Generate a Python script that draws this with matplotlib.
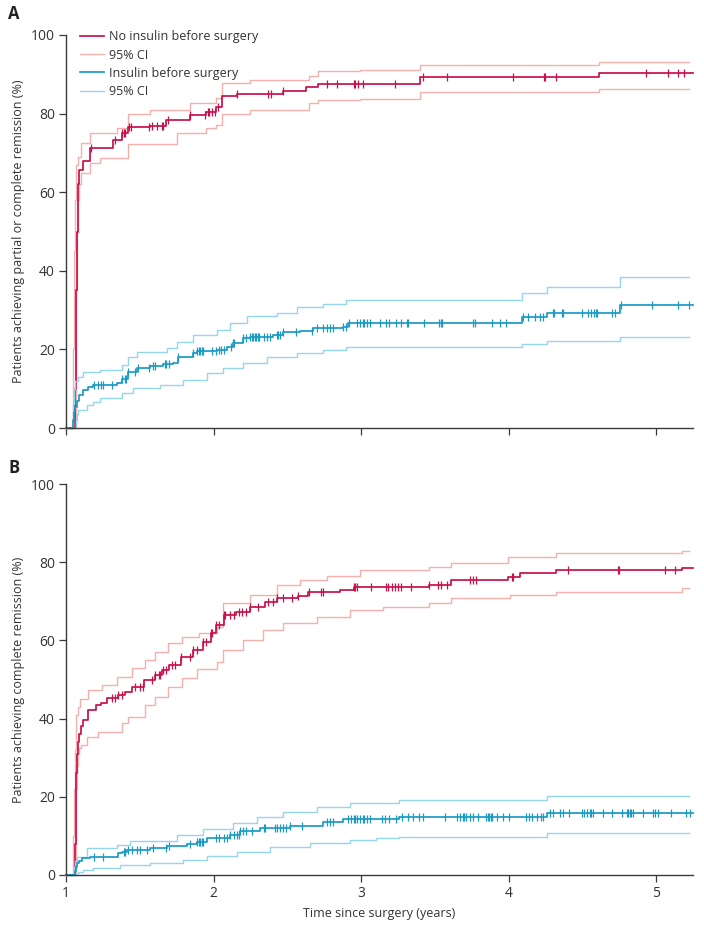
import numpy as np
import matplotlib.pyplot as plt

plt.rcParams['font.family'] = ['Open Sans', 'DejaVu Sans']

# ---- Panel A: partial or complete remission ----
a_no_t = [1.0, 1.06, 1.065, 1.07, 1.075, 1.08, 1.09, 1.115, 1.16, 1.32, 1.38, 1.42, 1.57, 1.68,
          1.84, 1.95, 2.02, 2.056, 2.16, 2.47, 2.63, 2.71, 3.40, 4.615]
a_no_v = [0, 10, 20, 35, 50, 62, 65.6, 68, 71.2, 73.3, 75, 76.6, 76.8, 78.4,
          79.6, 80.4, 81.7, 84.5, 85, 85.8, 86.8, 87.5, 89.3, 90.3]
a_no_hi_t = [1.0, 1.05, 1.055, 1.06, 1.065, 1.07, 1.08, 1.10, 1.16, 1.345, 1.42, 1.57, 1.84, 2.02,
             2.056, 2.25, 2.65, 2.71, 2.99, 3.40, 4.615]
a_no_hi_v = [0, 20, 45, 58, 64, 67, 69, 72.5, 75, 76.3, 80, 81, 82.7, 84,
             87.8, 88.5, 89.6, 90.8, 91.1, 92.4, 93.1]
a_no_lo_t = [1.0, 1.065, 1.07, 1.075, 1.08, 1.09, 1.10, 1.16, 1.23, 1.42, 1.75, 1.95, 2.02,
             2.056, 2.25, 2.65, 2.71, 2.99, 3.40, 4.615]
a_no_lo_v = [0, 15, 35, 50, 58, 62, 65, 67.4, 68.7, 72.3, 75, 76.3, 77.1,
             80, 81, 82.7, 83.5, 83.7, 85.5, 86.3]
a_no_cens = [1.17, 1.33, 1.38, 1.39, 1.40, 1.43, 1.44, 1.56, 1.58, 1.62, 1.65, 1.66, 1.69, 1.84,
             1.94, 1.96, 1.97, 1.99, 2.01, 2.03, 2.16, 2.37, 2.39, 2.47, 2.77, 2.84, 2.95, 2.96,
             2.98, 3.01, 3.23, 3.42, 3.58, 4.03, 4.24, 4.25, 4.32, 4.93, 5.08, 5.15, 5.19]

a_ins_t = [1.0, 1.05, 1.055, 1.06, 1.074, 1.09, 1.115, 1.15, 1.18, 1.345, 1.379, 1.42, 1.48, 1.569,
           1.657, 1.724, 1.758, 1.86, 1.887, 2.022, 2.09, 2.13, 2.198, 2.246, 2.40, 2.47, 2.584,
           2.672, 2.875, 2.909, 4.094, 4.263, 4.758]
a_ins_v = [0, 2, 4, 5.3, 6.8, 8.5, 9.7, 10.4, 10.9, 11.5, 12.5, 14.2, 15.3, 15.8,
           16.3, 16.5, 18, 19, 19.6, 19.8, 20.6, 21.6, 22.9, 23.2, 23.7, 24.4, 24.7,
           25.4, 25.7, 26.7, 28.2, 29.3, 31.3]
a_ins_hi_t = [1.0, 1.05, 1.055, 1.061, 1.081, 1.115, 1.23, 1.379, 1.42, 1.48, 1.684, 1.752, 1.86,
              2.022, 2.11, 2.225, 2.43, 2.564, 2.74, 2.90, 4.094, 4.263, 4.758]
a_ins_hi_v = [0, 6, 10, 12, 13, 14.2, 14.8, 16, 18, 19.3, 20.4, 21.9, 23.7,
              24.9, 26.7, 28.5, 29.3, 30.8, 31.6, 32.6, 34.3, 35.9, 38.4]
a_ins_lo_t = [1.0, 1.07, 1.074, 1.08, 1.142, 1.18, 1.23, 1.379, 1.454, 1.636, 1.792, 1.955, 2.063,
              2.198, 2.36, 2.564, 2.74, 2.90, 4.094, 4.263, 4.758]
a_ins_lo_v = [0, 2, 3.5, 4.6, 5.9, 6.6, 7.6, 8.9, 10.2, 10.9, 12.2, 14, 15.3,
              16.5, 18, 19, 19.8, 20.6, 21.4, 22.1, 23.2]
a_ins_cens = [1.19, 1.22, 1.24, 1.25, 1.31, 1.38, 1.40, 1.41, 1.42, 1.47, 1.49, 1.56, 1.59, 1.60,
              1.67, 1.68, 1.70, 1.76, 1.86, 1.89, 1.90, 1.91, 1.92, 1.93, 1.99, 2.02, 2.04, 2.05,
              2.07, 2.12, 2.13, 2.14, 2.20, 2.22, 2.25, 2.26, 2.27, 2.28, 2.29, 2.30, 2.31, 2.34,
              2.36, 2.38, 2.43, 2.44, 2.45, 2.47, 2.56, 2.67, 2.70, 2.74, 2.77, 2.79, 2.81, 2.88,
              2.90, 2.92, 2.97, 2.99, 3.01, 3.02, 3.04, 3.06, 3.13, 3.17, 3.19, 3.24, 3.27, 3.31,
              3.32, 3.43, 3.53, 3.54, 3.55, 3.76, 3.77, 3.89, 3.94, 3.98, 4.10, 4.13, 4.18, 4.21,
              4.23, 4.30, 4.31, 4.36, 4.37, 4.50, 4.54, 4.56, 4.58, 4.59, 4.60, 4.70, 4.72, 4.76,
              4.97, 5.15, 5.22]

# ---- Panel B: complete remission ----
b_no_t = [1.0, 1.06, 1.065, 1.07, 1.075, 1.08, 1.088, 1.10, 1.117, 1.15, 1.20, 1.24, 1.28, 1.35,
          1.40, 1.45, 1.53, 1.60, 1.65, 1.70, 1.78, 1.86, 1.93, 1.98, 2.02, 2.07, 2.15, 2.25,
          2.35, 2.43, 2.57, 2.64, 2.86, 2.95, 3.46, 3.613, 3.993, 4.074, 4.324, 5.177]
b_no_v = [0, 8, 18, 26, 31, 34, 36, 38, 39.6, 42.2, 43.5, 44, 45.3, 46,
          46.8, 48.1, 49.9, 51.2, 52.4, 53.7, 55.8, 57.5, 59.6, 61.9, 63.9, 66.5, 67.3, 68.5,
          69.8, 70.8, 71.4, 72.4, 72.9, 73.6, 74.2, 75.4, 76.2, 77.2, 78.0, 78.5]
b_no_hi_t = [1.0, 1.05, 1.055, 1.06, 1.065, 1.07, 1.08, 1.095, 1.149, 1.244, 1.345, 1.447, 1.535,
             1.603, 1.69, 1.785, 1.90, 2.022, 2.063, 2.246, 2.43, 2.584, 2.767, 2.99, 3.46,
             3.613, 3.993, 4.324, 5.177]
b_no_hi_v = [0, 10, 22, 32, 38, 41, 43, 45, 47.3, 48.6, 50.6, 52.9, 55,
             57, 59.3, 60.9, 62, 63.4, 69.6, 71.6, 74.2, 75.4, 76.5, 78, 78.8,
             79.8, 81.3, 82.4, 82.9]
b_no_lo_t = [1.0, 1.065, 1.07, 1.075, 1.08, 1.09, 1.10, 1.14, 1.217, 1.379, 1.42, 1.535, 1.603,
             1.69, 1.785, 1.887, 2.022, 2.063, 2.198, 2.334, 2.47, 2.70, 2.923, 3.146, 3.46,
             3.613, 4.007, 4.324, 5.177]
b_no_lo_v = [0, 12, 22, 28, 31, 32.5, 33.2, 35.3, 36.6, 38.9, 40.4, 43.5, 45.5,
             48.1, 50.4, 52.7, 54.5, 57.5, 60.1, 62.7, 64.5, 66, 67.8, 68.5, 69.6,
             70.8, 71.6, 72.4, 73.4]
b_no_cens = [1.31, 1.33, 1.35, 1.38, 1.47, 1.50, 1.52, 1.58, 1.60, 1.63, 1.64, 1.66, 1.68, 1.72,
             1.74, 1.78, 1.84, 1.86, 1.89, 1.93, 1.95, 1.98, 1.99, 2.02, 2.04, 2.07, 2.08, 2.11,
             2.14, 2.17, 2.19, 2.22, 2.25, 2.30, 2.37, 2.40, 2.43, 2.47, 2.53, 2.57, 2.65, 2.73,
             2.74, 2.95, 2.96, 2.97, 3.07, 3.17, 3.18, 3.21, 3.23, 3.25, 3.27, 3.34, 3.46, 3.52,
             3.54, 3.58, 3.74, 3.76, 3.78, 4.02, 4.03, 4.40, 4.74, 4.75, 5.06, 5.13]

b_ins_t = [1.0, 1.06, 1.065, 1.074, 1.085, 1.108, 1.162, 1.352, 1.379, 1.413, 1.569, 1.684, 1.819,
           1.887, 1.955, 2.11, 2.178, 2.313, 2.517, 2.74, 2.875, 3.26, 4.26]
b_ins_v = [0, 1, 2, 3, 3.6, 4.3, 4.6, 5.6, 5.9, 6.4, 6.9, 7.4, 7.9,
           8.4, 9.5, 10.2, 11.3, 12, 12.5, 13.6, 14.3, 14.8, 15.9]
b_ins_hi_t = [1.0, 1.055, 1.06, 1.074, 1.142, 1.345, 1.433, 1.752, 1.928, 2.13, 2.293, 2.469,
              2.70, 2.923, 3.26, 4.26]
b_ins_hi_v = [0, 2, 3.5, 4.6, 6.9, 7.7, 8.7, 10.2, 11.8, 13.3, 14.8, 16.1,
              17.4, 18.4, 19.2, 20.2]
b_ins_lo_t = [1.0, 1.08, 1.115, 1.183, 1.366, 1.569, 1.792, 1.955, 2.158, 2.38, 2.652, 2.923,
              3.10, 3.26, 4.26]
b_ins_lo_v = [0, 0.8, 1.3, 1.8, 2.6, 3.1, 3.8, 4.9, 5.9, 7.2, 8.2, 9.0,
              9.4, 9.7, 10.7]
b_ins_cens = [1.19, 1.25, 1.39, 1.40, 1.42, 1.45, 1.48, 1.50, 1.55, 1.59, 1.68, 1.70, 1.84, 1.89,
              1.90, 1.91, 1.92, 1.93, 2.02, 2.04, 2.07, 2.09, 2.11, 2.14, 2.16, 2.17, 2.18, 2.20,
              2.22, 2.26, 2.34, 2.35, 2.42, 2.43, 2.45, 2.47, 2.49, 2.52, 2.60, 2.77, 2.79, 2.81,
              2.91, 2.93, 2.95, 2.96, 2.97, 2.99, 3.01, 3.02, 3.04, 3.06, 3.14, 3.16, 3.19, 3.24,
              3.28, 3.32, 3.35, 3.39, 3.42, 3.57, 3.65, 3.67, 3.69, 3.70, 3.71, 3.74, 3.76, 3.79,
              3.85, 3.86, 3.87, 3.88, 3.89, 3.92, 3.96, 4.00, 4.12, 4.14, 4.16, 4.19, 4.22, 4.23,
              4.28, 4.30, 4.35, 4.37, 4.41, 4.50, 4.51, 4.53, 4.55, 4.56, 4.57, 4.64, 4.70, 4.77,
              4.80, 4.81, 4.82, 4.83, 4.84, 4.91, 4.98, 4.99, 5.01, 5.10, 5.20, 5.23]

end_main = 5.25
end_ci = 5.22

red = '#c8104a'
pink = '#f4b0ad'
blue = '#1b9ac4'
lblue = '#96d6ec'


def step_xy(t, v, end):
    return list(t) + [end], list(v) + [v[-1]]


def at(t, v, q):
    idx = np.searchsorted(t, q, side='right') - 1
    return np.array(v)[idx]


def draw(ax, t, v, hi_t, hi_v, lo_t, lo_v, cens, c_main, c_ci, lab):
    x, y = step_xy(hi_t, hi_v, end_ci)
    ax.step(x, y, where='post', color=c_ci, lw=1.0, clip_on=False, label='95% CI')
    x, y = step_xy(lo_t, lo_v, end_ci)
    ax.step(x, y, where='post', color=c_ci, lw=1.0, clip_on=False)
    x, y = step_xy(t, v, end_main)
    ax.step(x, y, where='post', color=c_main, lw=1.25, clip_on=False, label=lab)
    ax.plot(cens, at(t, v, cens), ls='none', marker='|', ms=6, mew=0.9, color=c_main)


fig = plt.figure(figsize=(7.04, 9.31), dpi=100)
axA = fig.add_axes([66 / 704, 1 - 428 / 931, 627 / 704, 393 / 931])
axB = fig.add_axes([66 / 704, 1 - 875 / 931, 627 / 704, 391 / 931])

draw(axA, a_no_t, a_no_v, a_no_hi_t, a_no_hi_v, a_no_lo_t, a_no_lo_v, a_no_cens, red, pink,
     'No insulin before surgery')
draw(axA, a_ins_t, a_ins_v, a_ins_hi_t, a_ins_hi_v, a_ins_lo_t, a_ins_lo_v, a_ins_cens, blue, lblue,
     'Insulin before surgery')
draw(axB, b_no_t, b_no_v, b_no_hi_t, b_no_hi_v, b_no_lo_t, b_no_lo_v, b_no_cens, red, pink,
     'No insulin before surgery')
draw(axB, b_ins_t, b_ins_v, b_ins_hi_t, b_ins_hi_v, b_ins_lo_t, b_ins_lo_v, b_ins_cens, blue, lblue,
     'Insulin before surgery')

for ax in (axA, axB):
    ax.set_xlim(1, 5.25)
    ax.set_ylim(0, 100)
    ax.set_xticks([1, 2, 3, 4, 5])
    ax.set_yticks([0, 20, 40, 60, 80, 100])
    for s in ('top', 'right'):
        ax.spines[s].set_visible(False)
    for s in ('left', 'bottom'):
        ax.spines[s].set_color('#3a3a3a')
        ax.spines[s].set_linewidth(1.0)
    ax.tick_params(direction='out', length=5, width=0.9, color='#3a3a3a',
                   labelsize=10, labelcolor='#333333', pad=3)

axA.set_xticklabels([])
axA.set_ylabel('Patients achieving partial or complete remission (%)', fontsize=9, color='#333333')
axB.set_ylabel('Patients achieving complete remission (%)', fontsize=9, color='#333333')
axB.set_xlabel('Time since surgery (years)', fontsize=9, color='#333333', labelpad=4)

h, l = axA.get_legend_handles_labels()
order = [1, 0, 3, 2]
axA.legend([h[i] for i in order], [l[i] for i in order], loc='upper left',
           bbox_to_anchor=(0.022, 1.012), frameon=False, fontsize=9, handlelength=1.9,
           handletextpad=0.45, labelspacing=0.42, borderaxespad=0, borderpad=0,
           labelcolor='#333333')

fig.text(8 / 704, 1 - 14 / 931, 'A', fontsize=12, fontweight='bold', va='center', color='#222222')
fig.text(8 / 704, 1 - 468 / 931, 'B', fontsize=12, fontweight='bold', va='center', color='#222222')

fig.savefig('out.png', dpi=100)
